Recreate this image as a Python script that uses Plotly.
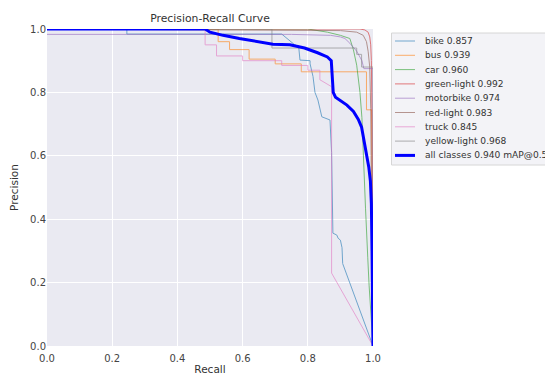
import plotly.graph_objects as go

# ---------------- data ----------------
class_names = ["bike", "bus", "car", "green-light", "motorbike", "red-light", "truck", "yellow-light"]
class_ap = [0.857, 0.939, 0.960, 0.992, 0.974, 0.983, 0.845, 0.968]
all_classes_label = "all classes 0.940 mAP@0.5"

bike_recall = [0.0, 0.245, 0.245, 0.72, 0.76, 0.772, 0.776, 0.807, 0.807, 0.816, 0.822, 0.831, 0.843, 0.868, 0.873, 0.877, 0.889, 0.893, 0.9, 0.905, 0.907, 1.0]
bike_precision = [1.0, 1.0, 0.984, 0.984, 0.95, 0.945, 0.902, 0.9, 0.89, 0.85, 0.8, 0.776, 0.723, 0.713, 0.61, 0.356, 0.35, 0.34, 0.334, 0.31, 0.26, 0.0]

bus_recall = [0.0, 0.525, 0.525, 0.56, 0.56, 0.62, 0.62, 0.7, 0.7, 0.78, 0.78, 0.98, 0.98, 0.996, 1.0]
bus_precision = [1.0, 1.0, 0.96, 0.96, 0.935, 0.935, 0.905, 0.905, 0.89, 0.89, 0.865, 0.865, 0.745, 0.745, 0.0]

car_recall = [0.0, 0.8, 0.86, 0.9, 0.929, 0.94, 0.95, 0.955, 0.96, 0.966, 0.97, 0.977, 0.984, 0.988, 1.0]
car_precision = [1.0, 1.0, 0.99, 0.98, 0.97, 0.934, 0.886, 0.844, 0.8, 0.72, 0.593, 0.435, 0.278, 0.192, 0.0]

green_light_recall = [0.0, 0.96, 0.975, 0.985, 0.99, 0.993, 0.995, 0.997, 1.0]
green_light_precision = [1.0, 1.0, 0.997, 0.99, 0.975, 0.95, 0.9, 0.7, 0.0]

motorbike_recall = [0.0, 0.75, 0.87, 0.9, 0.914, 0.929, 0.95, 0.966, 0.972, 1.0, 1.0]
motorbike_precision = [0.983, 0.983, 0.98, 0.975, 0.97, 0.955, 0.93, 0.9, 0.875, 0.875, 0.0]

red_light_recall = [0.0, 0.9, 0.95, 0.97, 0.98, 0.985, 0.99, 0.993, 0.995, 1.0]
red_light_precision = [1.0, 0.995, 0.99, 0.98, 0.96, 0.93, 0.88, 0.75, 0.5, 0.0]

truck_recall = [0.0, 0.485, 0.485, 0.52, 0.52, 0.6, 0.6, 0.72, 0.72, 0.8, 0.8, 0.837, 0.837, 0.873, 0.873, 1.0]
truck_precision = [1.0, 1.0, 0.95, 0.95, 0.915, 0.915, 0.9, 0.9, 0.885, 0.885, 0.87, 0.87, 0.84, 0.818, 0.23, 0.0]

yellow_light_recall = [0.0, 0.69, 0.69, 0.95, 0.95, 0.965, 0.965, 1.0, 1.0]
yellow_light_precision = [1.0, 1.0, 0.94, 0.94, 0.92, 0.92, 0.88, 0.88, 0.0]

all_recall = [0.0, 0.485, 0.5, 0.54, 0.59, 0.643, 0.693, 0.745, 0.79, 0.83, 0.86, 0.872, 0.875, 0.878, 0.885, 0.9, 0.92, 0.94, 0.955, 0.965, 0.972, 0.98, 0.987, 0.992, 0.995, 0.997, 1.0]
all_precision = [1.0, 1.0, 0.99, 0.98, 0.97, 0.96, 0.952, 0.95, 0.94, 0.925, 0.912, 0.9, 0.86, 0.8, 0.785, 0.775, 0.76, 0.74, 0.715, 0.69, 0.65, 0.61, 0.565, 0.52, 0.45, 0.3, 0.0]

axis_ticks = [0.0, 0.2, 0.4, 0.6, 0.8, 1.0]
tick_labels = ["0.0", "0.2", "0.4", "0.6", "0.8", "1.0"]

# ---------------- styling ----------------
class_colors = ["#1f77b4", "#ff7f0e", "#2ca02c", "#d62728", "#9467bd", "#8c564b", "#e377c2", "#7f7f7f"]
series = [
    (bike_recall, bike_precision),
    (bus_recall, bus_precision),
    (car_recall, car_precision),
    (green_light_recall, green_light_precision),
    (motorbike_recall, motorbike_precision),
    (red_light_recall, red_light_precision),
    (truck_recall, truck_precision),
    (yellow_light_recall, yellow_light_precision),
]
FONT = "DejaVu Sans"

fig = go.Figure()
for (r, p), name, ap, col in zip(series, class_names, class_ap, class_colors):
    fig.add_trace(go.Scatter(x=r, y=p, mode="lines", name=f"{name} {ap:.3f}",
                             line=dict(color=col, width=1), opacity=0.6, showlegend=False))
fig.add_trace(go.Scatter(x=all_recall, y=all_precision, mode="lines", name=all_classes_label,
                         line=dict(color="blue", width=3), showlegend=False))

# page body margin offsets the figure by 8px
OFF = 8
FIG_W, FIG_H = 553 - OFF, 376 - OFF
L, T, W, H = 47 - OFF, 29 - OFF, 326, 317

def px_x(px):
    return (px - OFF - L) / W

def px_y(py):
    return (T + H - (py - OFF)) / H

# ---------------- custom legend (paper coords) ----------------
shapes = [dict(type="rect", xref="paper", yref="paper",
               x0=px_x(391.5), x1=px_x(600), y0=px_y(165), y1=px_y(33),
               fillcolor="#f3f3f7", line=dict(color="#d6d6d6", width=1), layer="above")]
annotations = []
labels = [f"{n} {a:.3f}" for n, a in zip(class_names, class_ap)] + [all_classes_label]
colors = class_colors + ["blue"]
widths = [1] * len(class_names) + [3]
for i, (lab, col, w) in enumerate(zip(labels, colors, widths)):
    cy = 41 + i * 14.3
    shapes.append(dict(type="line", xref="paper", yref="paper",
                       x0=px_x(395), x1=px_x(415), y0=px_y(cy), y1=px_y(cy),
                       line=dict(color=col, width=w), opacity=1.0 if w > 1 else 0.6, layer="above"))
    annotations.append(dict(xref="paper", yref="paper", x=px_x(423), y=px_y(cy),
                            xanchor="left", yanchor="middle", text=lab, showarrow=False,
                            font=dict(family=FONT, size=9.1, color="#333333")))

axis_common = dict(range=[0, 1], tickvals=axis_ticks, ticktext=tick_labels, showgrid=True,
                   gridcolor="white", gridwidth=1, zeroline=False, showline=False,
                   tickfont=dict(family=FONT, size=10, color="#444444"), automargin=False, ticks="")

fig.update_layout(
    width=FIG_W, height=FIG_H,
    margin=dict(l=L, r=FIG_W - L - W, t=T, b=FIG_H - T - H, autoexpand=False),
    paper_bgcolor="white", plot_bgcolor="#eaeaf2",
    title=dict(text="Precision-Recall Curve", x=px_x(210), xref="paper", xanchor="center",
               y=1 - (18 - OFF) / FIG_H, yanchor="middle", font=dict(family=FONT, size=10.8, color="#333333")),
    xaxis=dict(axis_common, ticklabelstandoff=5,
               title=dict(text="Recall", standoff=2, font=dict(family=FONT, size=10.5, color="#333333"))),
    yaxis=dict(axis_common,
               title=dict(text="Precision", standoff=12, font=dict(family=FONT, size=10.5, color="#333333"))),
    shapes=shapes, annotations=annotations, showlegend=False,
)

fig.write_html("out.html")
